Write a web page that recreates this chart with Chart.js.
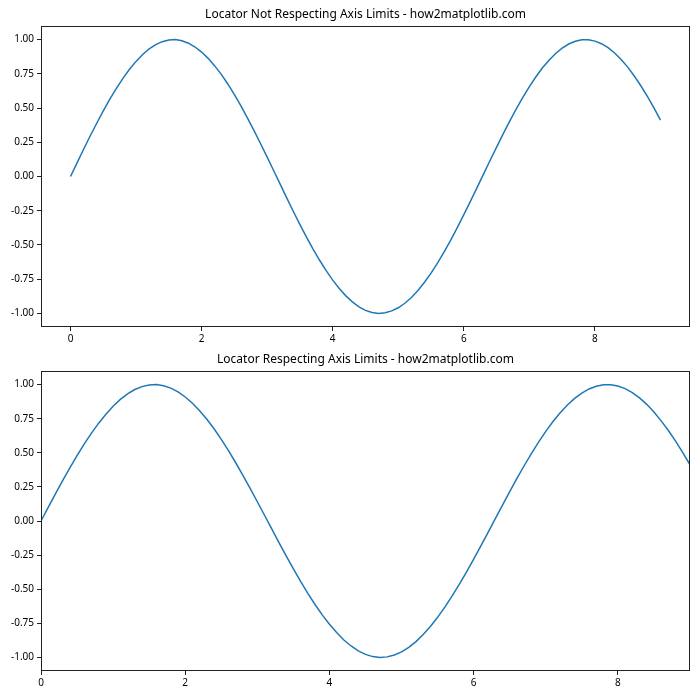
<!DOCTYPE html>
<html>
<head>
<meta charset="utf-8">
<script src="https://cdn.jsdelivr.net/npm/chart.js@4.4.1/dist/chart.umd.min.js"></script>
<style>
  html, body { margin: 0; padding: 0; background: #fff; }
  #wrap { position: relative; width: 700px; height: 700px; }
  .c { position: absolute; left: 0; width: 700px; height: 350px; }
</style>
</head>
<body>
<div id="wrap">
  <div class="c" style="top:0"><canvas id="c1" width="700" height="350"></canvas></div>
  <div class="c" style="top:350px"><canvas id="c2" width="700" height="350"></canvas></div>
</div>
<script>
const titleTop = "Locator Not Respecting Axis Limits - how2matplotlib.com";
const titleBottom = "Locator Respecting Axis Limits - how2matplotlib.com";

const xValues = [
  0.0,0.1,0.2,0.3,0.4,0.5,0.6,0.7,0.8,0.9,
  1.0,1.1,1.2,1.3,1.4,1.5,1.6,1.7,1.8,1.9,
  2.0,2.1,2.2,2.3,2.4,2.5,2.6,2.7,2.8,2.9,
  3.0,3.1,3.2,3.3,3.4,3.5,3.6,3.7,3.8,3.9,
  4.0,4.1,4.2,4.3,4.4,4.5,4.6,4.7,4.8,4.9,
  5.0,5.1,5.2,5.3,5.4,5.5,5.6,5.7,5.8,5.9,
  6.0,6.1,6.2,6.3,6.4,6.5,6.6,6.7,6.8,6.9,
  7.0,7.1,7.2,7.3,7.4,7.5,7.6,7.7,7.8,7.9,
  8.0,8.1,8.2,8.3,8.4,8.5,8.6,8.7,8.8,8.9,
  9.0
];
const yValues = [
  0.000,0.100,0.199,0.296,0.389,0.479,0.565,0.644,0.717,0.783,
  0.841,0.891,0.932,0.964,0.985,0.997,1.000,0.992,0.974,0.946,
  0.909,0.863,0.808,0.746,0.676,0.598,0.516,0.427,0.335,0.239,
  0.141,0.042,-0.058,-0.158,-0.256,-0.351,-0.443,-0.530,-0.612,-0.688,
  -0.757,-0.818,-0.872,-0.916,-0.952,-0.978,-0.994,-1.000,-0.996,-0.982,
  -0.959,-0.926,-0.884,-0.832,-0.773,-0.706,-0.631,-0.551,-0.465,-0.374,
  -0.279,-0.182,-0.083,0.017,0.117,0.215,0.312,0.405,0.494,0.578,
  0.657,0.729,0.794,0.850,0.899,0.938,0.968,0.988,0.999,0.999,
  0.989,0.970,0.941,0.902,0.855,0.799,0.734,0.663,0.585,0.501,
  0.412
];
const yTicks = [-1.0,-0.75,-0.5,-0.25,0.0,0.25,0.5,0.75,1.0];
const xTicksTop = [0,2,4,6,8];
const xTicksBottom = [0,2,4,6,8];

Chart.defaults.font.family = "'Noto Sans', 'DejaVu Sans', sans-serif";
Chart.defaults.font.size = 10;
Chart.defaults.color = '#000';

const boxPlugin = {
  id: 'boxTitle',
  afterDraw(chart, args, opts) {
    const {ctx, chartArea: a} = chart;
    ctx.save();
    ctx.strokeStyle = '#222';
    ctx.lineWidth = 1;
    ctx.strokeRect(Math.round(a.left) + 0.5, Math.round(a.top) + 0.5,
                   Math.round(a.right - a.left) - 1, Math.round(a.bottom - a.top) - 1);
    ctx.fillStyle = '#000';
    ctx.font = "12px 'Noto Sans', 'DejaVu Sans', sans-serif";
    ctx.textAlign = 'center';
    ctx.textBaseline = 'middle';
    ctx.fillText(opts.text, (a.left + a.right) / 2, opts.y);
    ctx.restore();
  }
};

function makeChart(id, title, titleY, xmin, xmax, xTicks, padTop, xAxisH) {
  return new Chart(document.getElementById(id), {
    type: 'line',
    data: {
      datasets: [{
        data: xValues.map((x, i) => ({x: x, y: yValues[i]})),
        borderColor: '#1f77b4',
        borderWidth: 1.5,
        pointRadius: 0,
        tension: 0,
        fill: false
      }]
    },
    options: {
      responsive: false,
      animation: false,
      layout: { padding: { left: 0, right: 10, top: padTop, bottom: 0 } },
      plugins: {
        legend: { display: false },
        tooltip: { enabled: false },
        title: { display: false },
        boxTitle: { text: title, y: titleY }
      },
      scales: {
        x: {
          type: 'linear',
          min: xmin, max: xmax,
          afterBuildTicks: s => { s.ticks = xTicks.map(v => ({value: v})); },
          afterFit: s => { s.height = xAxisH; },
          grid: { drawOnChartArea: false, drawTicks: true, tickLength: 4, tickColor: '#222' },
          border: { display: false },
          ticks: { padding: 2, maxRotation: 0, autoSkip: false, callback: v => String(v) }
        },
        y: {
          type: 'linear',
          min: -1.0995, max: 1.0995,
          afterBuildTicks: s => { s.ticks = yTicks.map(v => ({value: v})); },
          afterFit: s => { s.width = 41; },
          grid: { drawOnChartArea: false, drawTicks: true, tickLength: 4, tickColor: '#222' },
          border: { display: false },
          ticks: { padding: 3, autoSkip: false, callback: v => v.toFixed(2) }
        }
      }
    },
    plugins: [boxPlugin]
  });
}

makeChart('c1', titleTop, 15, -0.45, 9.45, xTicksTop, 26, 23);
makeChart('c2', titleBottom, 10, 0, 9, xTicksBottom, 21, 29);
</script>
</body>
</html>
